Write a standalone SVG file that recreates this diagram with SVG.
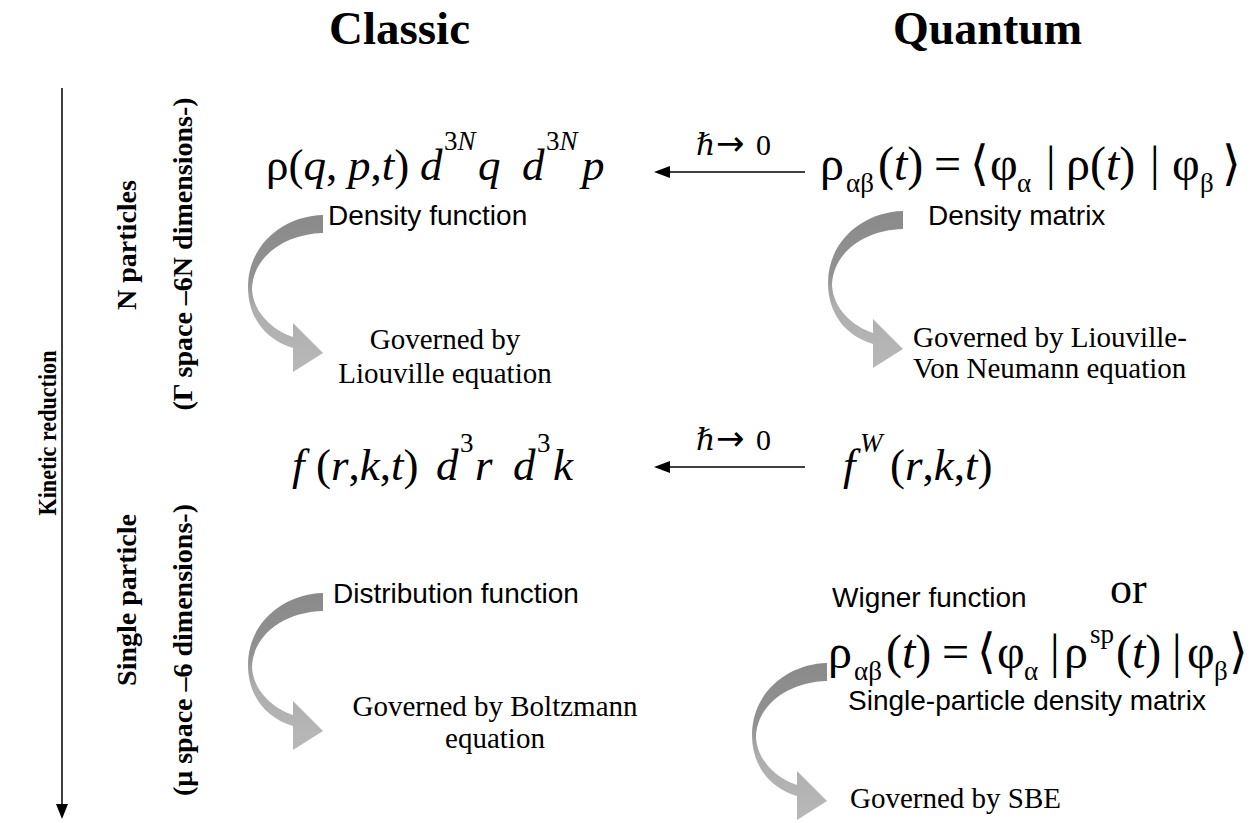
<svg xmlns="http://www.w3.org/2000/svg" width="1252" height="823" viewBox="0 0 1252 823">
<style>
.t{font-family:"Liberation Serif","Times New Roman","DejaVu Serif",serif;fill:#000}
.b{font-weight:bold}
.s{font-family:"Liberation Sans",Arial,sans-serif;font-size:28px;fill:#000}
.m{font-family:"Liberation Serif","Times New Roman","DejaVu Serif",serif;font-size:45px;fill:#000}
.q{font-size:48px}
.sup{font-family:"Liberation Serif","Times New Roman","DejaVu Serif",serif;font-size:27px;fill:#000}
.i{font-style:italic}
.g{font-family:"Liberation Serif","Times New Roman","DejaVu Serif",serif;font-size:29px;fill:#000}
.ln{stroke:#000;stroke-width:1.5;fill:none}
.br{font-family:"DejaVu Serif","Liberation Serif",serif}
.ar{font-family:"DejaVu Sans","Liberation Sans",sans-serif}
</style>
<defs>
<linearGradient id="grad" x1="0" y1="0" x2="0" y2="1">
<stop offset="0" stop-color="#8a8a8a"/>
<stop offset="0.4" stop-color="#929292"/>
<stop offset="0.6" stop-color="#aeaeae"/>
<stop offset="1" stop-color="#b8b8b8"/>
</linearGradient>
<path id="curve" d="M323 215 C283 216 248 245 248 287 C248 318 266 340 293 348 L293 372 L323 353 L293 323 L293 337 C272 330 253 312 252 289 C253 257 284 234 323 233 Z" fill="url(#grad)"/>
</defs>

<g id="titles">
<text class="t b" x="329" y="44" font-size="47">Classic</text>
<text class="t b" x="893" y="44" font-size="46">Quantum</text>
</g>

<g id="axis">
<text class="t b" x="56" y="433" font-size="26" text-anchor="middle" textLength="165" lengthAdjust="spacingAndGlyphs" transform="rotate(-90 56 433)">Kinetic reduction</text>
<text class="t b" x="136" y="245" font-size="28" text-anchor="middle" transform="rotate(-90 136 245)">N particles</text>
<text class="t b" x="192" y="254" font-size="28" text-anchor="middle" transform="rotate(-90 192 254)">(Γ space –6N dimensions-)</text>
<text class="t b" x="136" y="600" font-size="28" text-anchor="middle" transform="rotate(-90 136 600)">Single particle</text>
<text class="t b" x="192" y="650" font-size="28" text-anchor="middle" transform="rotate(-90 192 650)">(μ space –6 dimensions-)</text>
</g>

<g id="classic-n">
<text class="m" y="180" font-size="47"><tspan x="266">ρ(</tspan><tspan class="i">q</tspan><tspan>,</tspan></text>
<text class="m" y="180" font-size="47"><tspan x="348" class="i">p</tspan><tspan>,</tspan><tspan class="i">t</tspan><tspan>)</tspan></text>
<text class="m i" x="420" y="180" font-size="47">d</text>
<text class="sup" x="444" y="150" font-size="28">3<tspan class="i">N</tspan></text>
<text class="m i" x="478" y="180" font-size="47">q</text>
<text class="m i" x="522" y="180" font-size="47">d</text>
<text class="sup" x="546" y="150" font-size="28">3<tspan class="i">N</tspan></text>
<text class="m i" x="582" y="180" font-size="47">p</text>
<text class="s" x="328" y="225">Density function</text>
<use href="#curve"/>
<text class="g" x="445" y="349" text-anchor="middle">Governed by</text>
<text class="g" x="445" y="383" text-anchor="middle">Liouville equation</text>
</g>

<g id="quantum-n">
<text class="m q" x="820" y="180">ρ</text>
<text class="sup" x="846" y="192" font-size="28">αβ</text>
<text class="m q" x="878" y="180">(<tspan class="i">t</tspan>)</text>
<text class="m q" x="934" y="180">=</text>
<text class="m q br" x="970" y="180">⟨</text>
<text class="m q" x="990" y="180">φ</text>
<text class="sup" x="1017" y="192" font-size="28">α</text>
<text class="m q" x="1046" y="180">|</text>
<text class="m q" x="1066" y="180">ρ(<tspan class="i">t</tspan>)</text>
<text class="m q" x="1150" y="180">|</text>
<text class="m q" x="1172" y="180">φ</text>
<text class="sup" x="1200" y="192" font-size="28">β</text>
<text class="m q br" x="1222" y="180">⟩</text>
<text class="s" x="928" y="225">Density matrix</text>
<use href="#curve" transform="translate(580 -4)"/>
<text class="g" x="913" y="347" font-size="30.5">Governed by Liouville-</text>
<text class="g" x="913" y="378" font-size="30.5">Von Neumann equation</text>
</g>

<g id="classic-1">
<text class="m" y="480"><tspan x="292" class="i">f</tspan><tspan x="316">(</tspan><tspan class="i">r</tspan><tspan>,</tspan><tspan class="i">k</tspan><tspan>,</tspan><tspan class="i">t</tspan><tspan>)</tspan></text>
<text class="m i" x="436" y="480">d</text>
<text class="sup" x="460" y="452">3</text>
<text class="m i" x="475" y="480">r</text>
<text class="m i" x="513" y="480">d</text>
<text class="sup" x="537" y="452">3</text>
<text class="m i" x="553" y="480">k</text>
<text class="s" x="333" y="603">Distribution function</text>
<use href="#curve" transform="translate(0 378)"/>
<text class="g" x="495" y="716" text-anchor="middle">Governed by Boltzmann</text>
<text class="g" x="495" y="748" text-anchor="middle">equation</text>
</g>

<g id="quantum-1">
<text class="m i" x="843" y="480">f</text>
<text class="sup i" x="860" y="452">W</text>
<text class="m" y="480"><tspan x="890">(</tspan><tspan class="i">r</tspan><tspan>,</tspan><tspan class="i">k</tspan><tspan>,</tspan><tspan class="i">t</tspan><tspan>)</tspan></text>
<text class="s" x="832" y="607">Wigner function</text>
<text class="t" x="1110" y="603" font-size="44">or</text>
<text class="m q" x="828" y="668">ρ</text>
<text class="sup" x="854" y="680" font-size="28">αβ</text>
<text class="m q" x="886" y="668">(<tspan class="i">t</tspan>)</text>
<text class="m q" x="942" y="668">=</text>
<text class="m q br" x="977" y="668">⟨</text>
<text class="m q" x="997" y="668">φ</text>
<text class="sup" x="1024" y="680" font-size="28">α</text>
<text class="m q" x="1050" y="668">|</text>
<text class="m q" x="1064" y="668">ρ</text>
<text class="sup" x="1090" y="643">sp</text>
<text class="m q" x="1116" y="668">(<tspan class="i">t</tspan>)</text>
<text class="m q" x="1172" y="668">|</text>
<text class="m q" x="1187" y="668">φ</text>
<text class="sup" x="1214" y="680" font-size="28">β</text>
<text class="m q br" x="1229" y="668">⟩</text>
<text class="s" x="848" y="710">Single-particle density matrix</text>
<use href="#curve" transform="translate(504 448)"/>
<text class="g" x="850" y="808">Governed by SBE</text>
</g>

<g id="connectors">
<line class="ln" x1="62" y1="88" x2="62" y2="806"/>
<polygon points="56,804 68,804 62,819" fill="#000"/>
<line class="ln" x1="805" y1="172" x2="668" y2="172"/>
<polygon points="654,172 670,166 670,178" fill="#000"/>
<text class="t" y="155" font-size="30"><tspan x="696" class="i br">ℏ</tspan><tspan x="716" class="ar" font-size="34">→</tspan><tspan x="756">0</tspan></text>
<line class="ln" x1="805" y1="467" x2="668" y2="467"/>
<polygon points="654,467 670,461 670,473" fill="#000"/>
<text class="t" y="450" font-size="30"><tspan x="696" class="i br">ℏ</tspan><tspan x="716" class="ar" font-size="34">→</tspan><tspan x="756">0</tspan></text>
</g>
</svg>
